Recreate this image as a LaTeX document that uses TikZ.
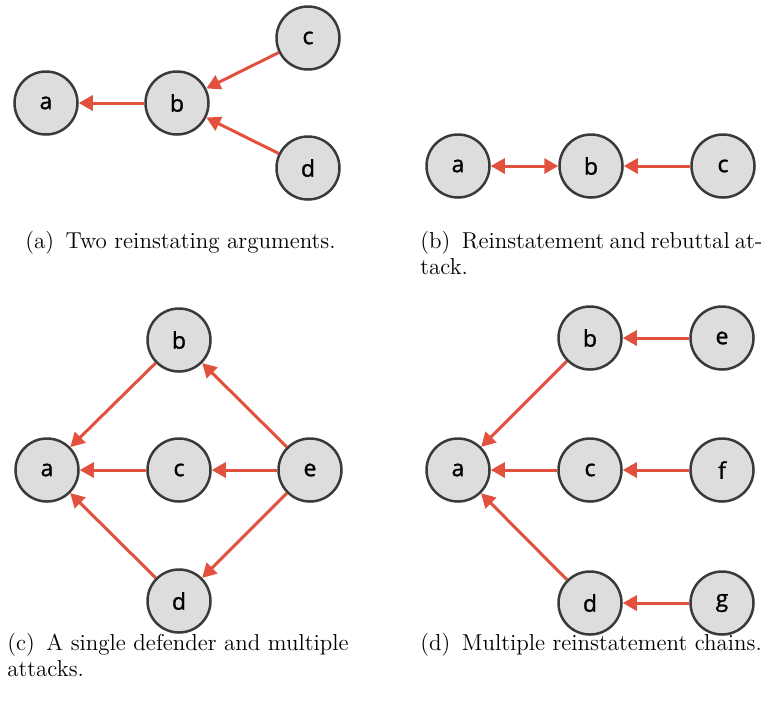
\documentclass[tikz,border=0pt]{standalone}
\usepackage{fontspec}
\newfontfamily\nodefont[FakeBold=1.2]{Open Sans}
\usetikzlibrary{arrows.meta}
\definecolor{edgered}{HTML}{E2503E}
\definecolor{nodegray}{HTML}{DDDDDD}
\definecolor{nodeborder}{HTML}{3A3A3A}
\tikzset{
  arg/.style={circle,draw=nodeborder,fill=nodegray,line width=1.25pt,minimum size=31.5pt,inner sep=0pt,font=\nodefont\fontsize{11.5}{13}\selectfont},
  att/.style={draw=edgered,line width=1.5pt,-{Triangle[length=7pt,width=7.5pt]}},
  batt/.style={draw=edgered,line width=1.5pt,{Triangle[length=7pt,width=7.5pt]}-{Triangle[length=7pt,width=7.5pt]}},
  capt/.style={anchor=base west,inner sep=0pt,font=\fontsize{11.5}{13}\selectfont,align=left}
}
\begin{document}
\begin{tikzpicture}[x=0.5pt,y=-0.5pt]
\useasboundingbox (0,0) rectangle (763,708);
% (a)
\node[arg] (aa) at (46,103) {a};
\node[arg] (ab) at (177,103) {b};
\node[arg] (ac) at (308,38) {c};
\node[arg] (ad) at (308,168) {d};
\draw[att] (ab) -- (aa);
\draw[att] (ac) -- (ab);
\draw[att] (ad) -- (ab);
\node[capt] (capa) at (25,248) {(a)\enspace Two reinstating arguments.};
% (b)
\node[arg] (ba) at (458,166) {a};
\node[arg] (bb) at (591,166) {b};
\node[arg] (bc) at (723,166) {c};
\draw[batt] (ba) -- (bb);
\draw[att] (bc) -- (bb);
\node[capt] (capb) at (420,274) {\makebox[171pt][s]{(b)\enspace Reinstatement and rebuttal at-}\\tack.};
% (c)
\node[arg] (cb) at (179,340) {b};
\node[arg] (ca) at (47,470) {a};
\node[arg] (cc) at (179,470) {c};
\node[arg] (ce) at (310,470) {e};
\node[arg] (cd) at (179,601) {d};
\draw[att] (cb) -- (ca);
\draw[att] (cc) -- (ca);
\draw[att] (cd) -- (ca);
\draw[att] (ce) -- (cb);
\draw[att] (ce) -- (cc);
\draw[att] (ce) -- (cd);
\node[capt] (capc) at (7,676) {(c)\enspace A single defender and multiple\\attacks.};
% (d)
\node[arg] (db) at (590,338) {b};
\node[arg] (de) at (722,338) {e};
\node[arg] (da) at (458,470) {a};
\node[arg] (dc) at (590,470) {c};
\node[arg] (df) at (722,470) {f};
\node[arg] (dd) at (590,603) {d};
\node[arg] (dg) at (722,603) {g};
\draw[att] (db) -- (da);
\draw[att] (dc) -- (da);
\draw[att] (dd) -- (da);
\draw[att] (de) -- (db);
\draw[att] (df) -- (dc);
\draw[att] (dg) -- (dd);
\node[capt] (capd) at (420,650) {(d)\enspace Multiple reinstatement chains.};
\end{tikzpicture}
\end{document}
